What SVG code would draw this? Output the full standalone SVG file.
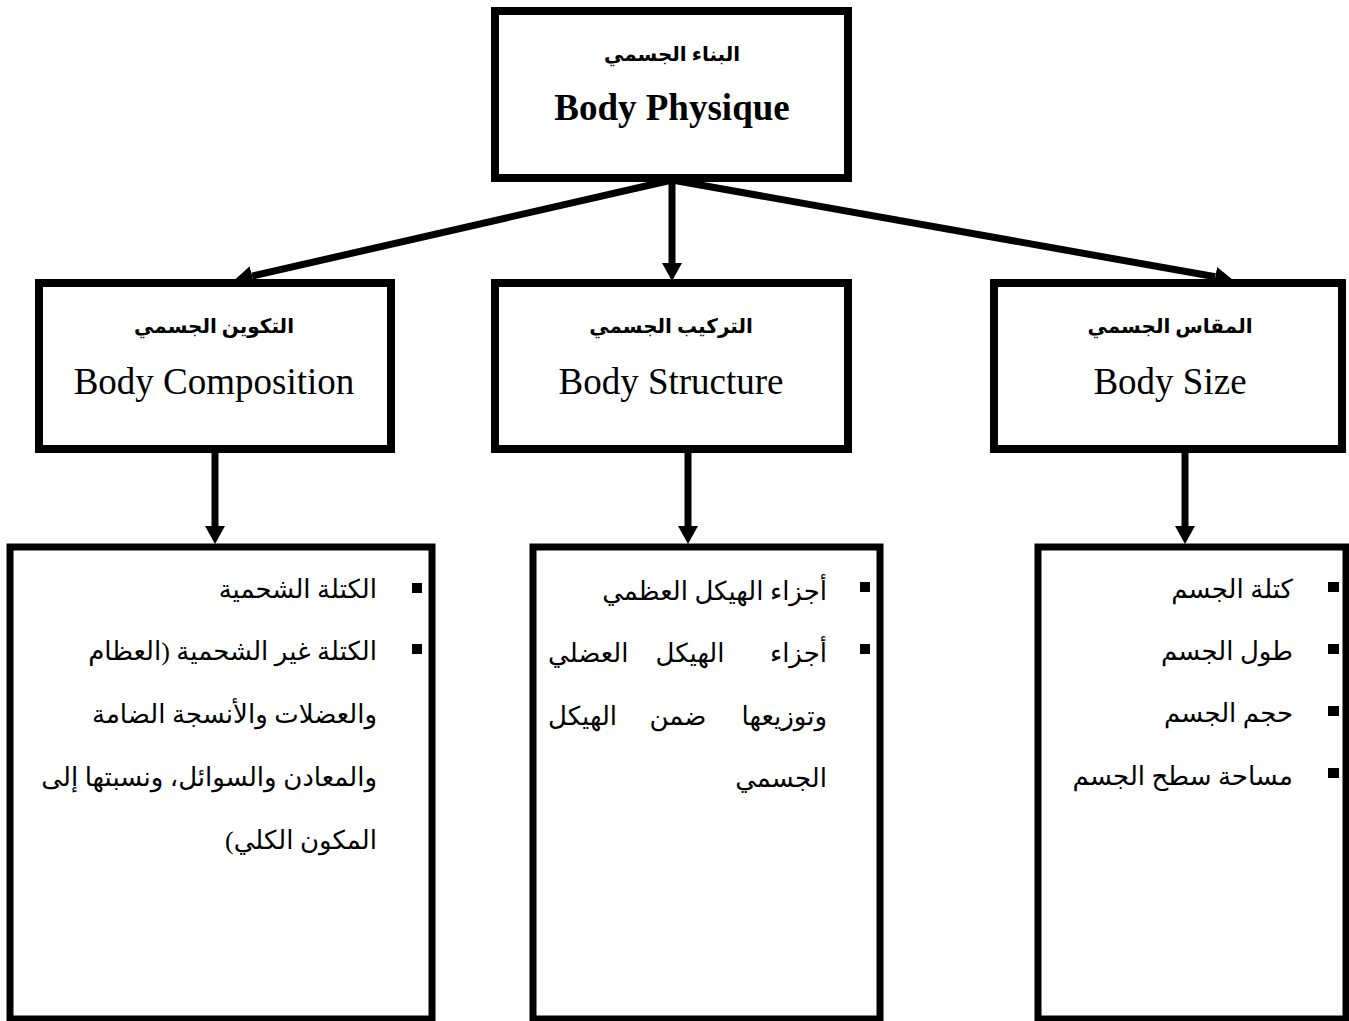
<svg xmlns="http://www.w3.org/2000/svg" width="1349" height="1021" viewBox="0 0 1349 1021">
<style>
.box{fill:#fff;stroke:#000;stroke-width:8}
.lbox{fill:#fff;stroke:#000;stroke-width:7}
.en{font-family:"Liberation Serif","Times New Roman",serif;fill:#000}
.ar{font-family:"Liberation Serif","DejaVu Sans",serif;fill:#000}
.arb{font-family:"Liberation Serif","DejaVu Sans",serif;font-weight:bold;fill:#000;font-size:20px}
.item{font-size:26px}
.conn{stroke:#000;stroke-width:7;fill:none}
</style>
<defs>
<marker id="ah" markerUnits="userSpaceOnUse" markerWidth="20" markerHeight="22" refX="0" refY="10" orient="auto" viewBox="0 0 20 22">
<path d="M0,0 L18,10 L0,20 z" fill="#000"/>
</marker>
</defs>
<rect width="1349" height="1021" fill="#fff"/>
<g id="connectors">
<line class="conn" x1="672" y1="180" x2="252" y2="276.1" marker-end="url(#ah)"/>
<line class="conn" x1="672" y1="180" x2="672" y2="263" marker-end="url(#ah)"/>
<line class="conn" x1="672" y1="180" x2="1215.3" y2="276.8" marker-end="url(#ah)"/>
<line class="conn" x1="215" y1="452" x2="215" y2="526" marker-end="url(#ah)"/>
<line class="conn" x1="688" y1="452" x2="688" y2="526" marker-end="url(#ah)"/>
<line class="conn" x1="1185" y1="452" x2="1185" y2="526" marker-end="url(#ah)"/>
</g>
<g id="node-physique">
<rect class="box" x="495" y="11" width="353" height="167"/>
<text class="arb" x="672" y="61" text-anchor="middle" direction="rtl">البناء الجسمي</text>
<text class="en" x="672" y="120" text-anchor="middle" font-size="37" font-weight="bold">Body Physique</text>
</g>
<g id="node-composition">
<rect class="box" x="39" y="283" width="352" height="166"/>
<text class="arb" x="214" y="333" text-anchor="middle" direction="rtl">التكوين الجسمي</text>
<text class="en" x="214" y="394" text-anchor="middle" font-size="37">Body Composition</text>
</g>
<g id="node-structure">
<rect class="box" x="495" y="283" width="353" height="166"/>
<text class="arb" x="671" y="333" text-anchor="middle" direction="rtl">التركيب الجسمي</text>
<text class="en" x="671" y="394" text-anchor="middle" font-size="37">Body Structure</text>
</g>
<g id="node-size">
<rect class="box" x="994" y="283" width="348" height="166"/>
<text class="arb" x="1170" y="333" text-anchor="middle" direction="rtl">المقاس الجسمي</text>
<text class="en" x="1170" y="394" text-anchor="middle" font-size="37">Body Size</text>
</g>
<g id="node-composition-list">
<rect class="lbox" x="10" y="547" width="422" height="472"/>
<rect x="412" y="583" width="10" height="10"/>
<rect x="412" y="644" width="10" height="10"/>
<text class="ar item" x="377" y="598" direction="rtl" text-anchor="start">الكتلة الشحمية</text>
<text class="ar item" x="377" y="660" direction="rtl" text-anchor="start">الكتلة غير الشحمية (العظام</text>
<text class="ar item" x="377" y="723" direction="rtl" text-anchor="start">والعضلات والأنسجة الضامة</text>
<text class="ar item" x="377" y="786" direction="rtl" text-anchor="start" font-size="25">والمعادن والسوائل، ونسبتها إلى</text>
<text class="ar item" x="377" y="849" direction="rtl" text-anchor="start">المكون الكلي)</text>
</g>
<g id="node-structure-list">
<rect class="lbox" x="533" y="547" width="347" height="472"/>
<rect x="860" y="582" width="10" height="10"/>
<rect x="860" y="644" width="10" height="10"/>
<text class="ar item" x="827" y="600" direction="rtl" text-anchor="start">أجزاء الهيكل العظمي</text>
<text class="ar item" x="827" y="662" direction="rtl" text-anchor="start">أجزاء</text>
<text class="ar item" x="690" y="662" direction="rtl" text-anchor="middle">الهيكل</text>
<text class="ar item" x="548" y="662" direction="rtl" text-anchor="end">العضلي</text>
<text class="ar item" x="827" y="725" direction="rtl" text-anchor="start">وتوزيعها</text>
<text class="ar item" x="678" y="725" direction="rtl" text-anchor="middle">ضمن</text>
<text class="ar item" x="548" y="725" direction="rtl" text-anchor="end">الهيكل</text>
<text class="ar item" x="827" y="787" direction="rtl" text-anchor="start">الجسمي</text>
</g>
<g id="node-size-list">
<rect class="lbox" x="1038" y="547" width="308" height="472"/>
<rect x="1328" y="582" width="11" height="10"/>
<rect x="1328" y="644" width="11" height="10"/>
<rect x="1328" y="706" width="11" height="10"/>
<rect x="1328" y="768" width="11" height="10"/>
<text class="ar item" x="1293" y="598" direction="rtl" text-anchor="start">كتلة الجسم</text>
<text class="ar item" x="1293" y="660" direction="rtl" text-anchor="start">طول الجسم</text>
<text class="ar item" x="1293" y="722" direction="rtl" text-anchor="start">حجم الجسم</text>
<text class="ar item" x="1293" y="785" direction="rtl" text-anchor="start">مساحة سطح الجسم</text>
</g>
</svg>
